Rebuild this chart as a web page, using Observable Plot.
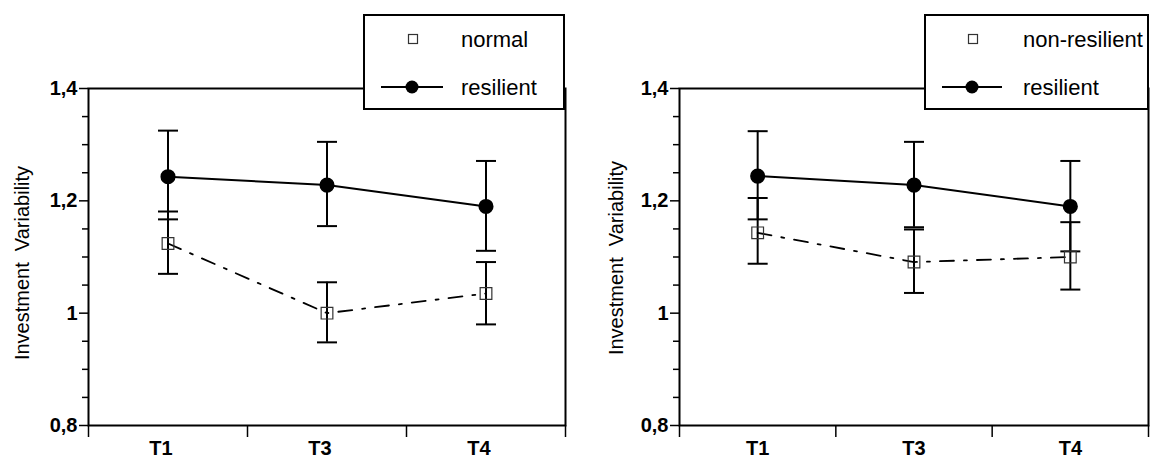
<!DOCTYPE html>
<html><head><meta charset="utf-8">
<script src="https://cdn.jsdelivr.net/npm/d3@7"></script>
<script src="https://cdn.jsdelivr.net/npm/@observablehq/plot@0.6"></script>
<style>
body{margin:0;background:#fff;font-family:"Liberation Sans",Arial,sans-serif;}
#wrap{position:relative;width:1150px;height:467px;display:flex;overflow:hidden;}
.panel{position:relative;width:575px;height:467px;}
.legend{position:absolute;background:#fff;border:2px solid #000;box-sizing:border-box;}
.legend svg{position:absolute;left:0;top:0;}
</style></head><body><div id="wrap"></div>
<script>
// categories (time points)
const categories = ["T1", "T3", "T4"];
// left panel: resilient vs normal
const leftResilient     = [1.243, 1.228, 1.190];
const leftResilientLow  = [1.167, 1.155, 1.111];
const leftResilientHigh = [1.325, 1.305, 1.271];
const leftNormal        = [1.124, 1.000, 1.035];
const leftNormalLow     = [1.070, 0.948, 0.980];
const leftNormalHigh    = [1.181, 1.055, 1.091];
// right panel: resilient vs non-resilient
const rightResilient     = [1.244, 1.228, 1.190];
const rightResilientLow  = [1.167, 1.153, 1.110];
const rightResilientHigh = [1.324, 1.305, 1.271];
const rightNon           = [1.143, 1.091, 1.100];
const rightNonLow        = [1.088, 1.036, 1.042];
const rightNonHigh       = [1.205, 1.149, 1.162];
// axis ticks
const yMajorTicks = [0.8, 1.0, 1.2, 1.4];
const yMinorTicks = [0.85, 0.9, 0.95, 1.05, 1.1, 1.15, 1.25, 1.3, 1.35];
const yLabel = "Investment  Variability";
const leftLegendLabels = ["normal", "resilient"];
const rightLegendLabels = ["non-resilient", "resilient"];

const FONT = "'Liberation Sans', Arial, sans-serif";
const fmtY = d => Math.abs(d - 1) < 1e-9 ? "1" : d.toFixed(1).replace(".", ",");
const capSymbol = {draw(ctx) { ctx.moveTo(-10, 0); ctx.lineTo(10, 0); }};

function rows(v, lo, hi) {
  return categories.map((c, i) => ({pos: i + 0.5, c, v: v[i], lo: lo[i], hi: hi[i]}));
}

function makePanel(opts) {
  const R = rows(opts.res, opts.resLo, opts.resHi);
  const O = rows(opts.oth, opts.othLo, opts.othHi);
  return Plot.plot({
    width: 575, height: 467,
    marginLeft: opts.marginLeft, marginRight: opts.marginRight, marginTop: 88, marginBottom: 42,
    x: {domain: [0, 3]},
    y: {domain: [0.8, 1.4]},
    style: {fontFamily: FONT, background: "white", color: "black"},
    marks: [
      Plot.axisY({ticks: yMinorTicks, tickSize: 6, tickFormat: () => "", strokeWidth: 1.5, label: null}),
      Plot.axisY({ticks: yMajorTicks, tickSize: 9, tickPadding: 2, tickFormat: fmtY, fontSize: 20, fontWeight: "bold", strokeWidth: 1.5, label: null}),
      Plot.axisX({ticks: [0, 1, 2, 3], tickSize: 12, tickFormat: () => "", strokeWidth: 1.5, label: null}),
      Plot.axisX({ticks: categories.map((c, i) => i + 0.5), tickSize: 0, tickPadding: 15, dx: opts.xLabelDx,
                  tickFormat: d => categories[Math.floor(d)], fontSize: 20, fontWeight: "bold", label: null}),
      Plot.frame({strokeWidth: 2}),
      Plot.text([yLabel], {text: d => d, frameAnchor: "left", rotate: -90, textAnchor: "middle",
                           dx: opts.labelDx, dy: opts.labelDy, fontSize: 20}),
      Plot.line(O, {x: "pos", y: "v", strokeWidth: 1.8, strokeDasharray: "14,10,3,10"}),
      Plot.line(R, {x: "pos", y: "v", strokeWidth: 2}),
      Plot.ruleX(O, {x: "pos", y1: "lo", y2: "hi", strokeWidth: 2}),
      Plot.dot(O, {x: "pos", y: "lo", symbol: capSymbol, stroke: "black", strokeWidth: 2, r: 5}),
      Plot.dot(O, {x: "pos", y: "hi", symbol: capSymbol, stroke: "black", strokeWidth: 2, r: 5}),
      Plot.ruleX(R, {x: "pos", y1: "lo", y2: "hi", strokeWidth: 2}),
      Plot.dot(R, {x: "pos", y: "lo", symbol: capSymbol, stroke: "black", strokeWidth: 2, r: 5}),
      Plot.dot(R, {x: "pos", y: "hi", symbol: capSymbol, stroke: "black", strokeWidth: 2, r: 5}),
      Plot.dot(O, {x: "pos", y: "v", symbol: "square", r: 6.6, fill: "none", stroke: "#333", strokeWidth: 1.2}),
      Plot.dot(R, {x: "pos", y: "v", r: 6.8, fill: "black", stroke: "black"})
    ]
  });
}

function makeLegend(container, left, width, labels, sqX, textX, lineX1, lineX2) {
  const div = document.createElement("div");
  div.className = "legend";
  Object.assign(div.style, {left: left + "px", top: "14px", width: width + "px", height: "96px"});
  const svg = d3.select(div).append("svg").attr("width", width).attr("height", 96)
    .style("font-family", FONT);
  const g = svg.append("g").attr("transform", "translate(-2,-2)");
  g.append("rect").attr("x", sqX - 4.5).attr("y", 25 - 4.5).attr("width", 9).attr("height", 9)
    .attr("fill", "none").attr("stroke", "#333").attr("stroke-width", 1.2);
  g.append("text").attr("x", textX).attr("y", 25).attr("dy", "0.35em").attr("font-size", 22).text(labels[0]);
  g.append("line").attr("x1", lineX1).attr("x2", lineX2).attr("y1", 73).attr("y2", 73)
    .attr("stroke", "black").attr("stroke-width", 2);
  g.append("circle").attr("cx", (lineX1 + lineX2) / 2).attr("cy", 73).attr("r", 6.5).attr("fill", "black");
  g.append("text").attr("x", textX).attr("y", 73).attr("dy", "0.35em").attr("font-size", 22).text(labels[1]);
  container.appendChild(div);
}

const wrap = document.getElementById("wrap");
const p1 = document.createElement("div"); p1.className = "panel";
const p2 = document.createElement("div"); p2.className = "panel";
p1.appendChild(makePanel({marginLeft: 88, marginRight: 10, labelDx: -66, labelDy: 6, xLabelDx: -7,
  res: leftResilient, resLo: leftResilientLow, resHi: leftResilientHigh,
  oth: leftNormal, othLo: leftNormalLow, othHi: leftNormalHigh}));
p2.appendChild(makePanel({marginLeft: 104, marginRight: 2, labelDx: -63, labelDy: 1, xLabelDx: 0,
  res: rightResilient, resLo: rightResilientLow, resHi: rightResilientHigh,
  oth: rightNon, othLo: rightNonLow, othHi: rightNonHigh}));
wrap.appendChild(p1); wrap.appendChild(p2);
makeLegend(wrap, 363, 202, leftLegendLabels, 50, 98, 18, 80);
makeLegend(wrap, 924, 225, rightLegendLabels, 49, 99, 18, 78);
</script>
</body></html>
